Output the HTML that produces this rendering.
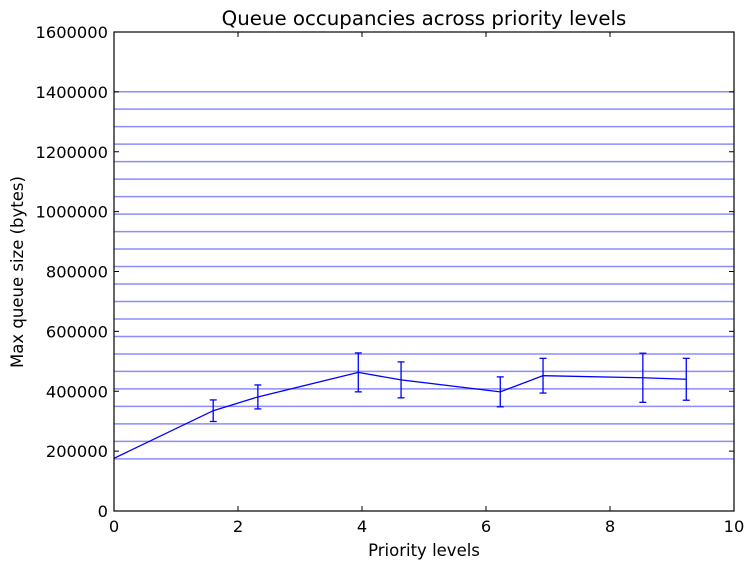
<!DOCTYPE html>
<html><head><meta charset="utf-8"><style>
html,body{margin:0;padding:0;background:#fff;}
svg{display:block;font-family:"DejaVu Sans","Liberation Sans",sans-serif;}
</style></head><body>
<svg id="chart" width="754" height="570" viewBox="0 0 754 570">
<rect x="0" y="0" width="754" height="570" fill="#fff"/>
<g id="hlines"></g>
<g id="series"></g>
<rect x="114" y="32" width="620" height="479" fill="none" stroke="#000" stroke-width="1.2"/>
<g id="axes"></g>
<text x="424" y="25" text-anchor="middle" font-size="19.8">Queue occupancies across priority levels</text>
<text x="424" y="556" text-anchor="middle" font-size="16.5">Priority levels</text>
<text x="23" y="272" text-anchor="middle" font-size="16.5" transform="rotate(-90 23 272)">Max queue size (bytes)</text>
</svg>
<script>
const xVals = [0, 1.60, 2.32, 3.94, 4.63, 6.23, 6.92, 8.53, 9.23];
const yVals = [176000, 335000, 381000, 463000, 438000, 398000, 452000, 445000, 440000];
const errVals = [0, 36000, 40000, 65000, 60000, 50000, 58000, 82000, 70000];
const refLines = [1400600, 1342200, 1283800, 1225400, 1167000, 1108600, 1050200, 991800, 933400, 875000, 816600, 758200, 699800, 641400, 583000, 524600, 466200, 407800, 349400, 291000, 232600, 174200];
const xTicks = [0, 2, 4, 6, 8, 10];
const yTicks = [0, 200000, 400000, 600000, 800000, 1000000, 1200000, 1400000, 1600000];

const NS = "http://www.w3.org/2000/svg";
const X0 = 114, X1 = 734, Y0 = 511, Y1 = 32;
function sx(v){ return X0 + (v - 0) / 10 * (X1 - X0); }
function sy(v){ return Y0 - v / 1600000 * (Y0 - Y1); }
function mk(tag, attrs, parent){
  const e = document.createElementNS(NS, tag);
  for (const k in attrs) e.setAttribute(k, attrs[k]);
  parent.appendChild(e);
  return e;
}
const hl = document.getElementById('hlines');
refLines.forEach(v => {
  const l = mk('line', {x1: X0, x2: X1, y1: sy(v), y2: sy(v), stroke: '#8c8cff', 'stroke-width': 1.5}, hl);
  
  
});
const sg = document.getElementById('series');
const pts = xVals.map((x, i) => sx(x).toFixed(2) + ',' + sy(yVals[i]).toFixed(2)).join(' ');
const pl = mk('polyline', {points: pts, fill: 'none', stroke: '#0000ff', 'stroke-width': 1.3}, sg);


xVals.forEach((x, i) => {
  if (!errVals[i]) return;
  const cx = sx(x), t = sy(yVals[i] + errVals[i]), b = sy(yVals[i] - errVals[i]);
  const g = mk('g', {stroke: '#0000ff', 'stroke-width': 1.3}, sg);
  
  
  mk('line', {x1: cx, x2: cx, y1: t, y2: b}, g);
  mk('line', {x1: cx - 3.5, x2: cx + 3.5, y1: t, y2: t}, g);
  mk('line', {x1: cx - 3.5, x2: cx + 3.5, y1: b, y2: b}, g);
});
const ax = document.getElementById('axes');
xTicks.forEach(v => {
  const x = sx(v);
  mk('line', {x1: x, x2: x, y1: Y0, y2: Y0 - 5, stroke: '#000'}, ax);
  mk('line', {x1: x, x2: x, y1: Y1, y2: Y1 + 5, stroke: '#000'}, ax);
  const t = mk('text', {x: x, y: Y0 + 21, 'text-anchor': 'middle', 'font-size': 16.3}, ax);
  t.textContent = v;
  
  
});
yTicks.forEach(v => {
  const y = sy(v);
  mk('line', {x1: X0, x2: X0 + 5, y1: y, y2: y, stroke: '#000'}, ax);
  mk('line', {x1: X1, x2: X1 - 5, y1: y, y2: y, stroke: '#000'}, ax);
  const t = mk('text', {x: X0 - 6, y: y + 6, 'text-anchor': 'end', 'font-size': 16.3}, ax);
  t.textContent = v;
  
  
});
</script>
</body></html>
